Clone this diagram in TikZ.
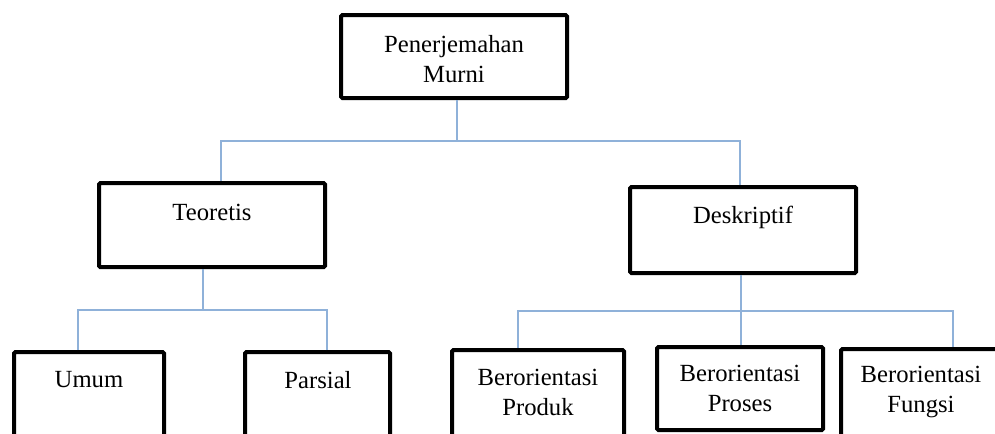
\documentclass[tikz,border=0pt]{standalone}
\usepackage{fontspec}
\setmainfont{Liberation Serif}
\usetikzlibrary{calc}

\tikzset{every picture/.style={line width=0.75pt}}
\tikzset{
  box/.style={draw, line width=3pt, rounded corners=1pt, inner sep=0pt},
  lbl/.style={align=center, inner sep=0pt, font=\fontsize{18.5}{22.5}\selectfont},
  conn/.style={draw={rgb, 255:red, 143; green, 177; blue, 217}, line width=1.6pt}
}

\begin{document}
\begin{tikzpicture}[x=0.75pt,y=0.75pt,yscale=-1,xscale=1]
		\useasboundingbox (0,0) rectangle (995,433);
		\clip (0,0) rectangle (995,433);

		%Shape: Rectangle
		\node[box, minimum width=169.5pt, minimum height=62.25pt] (murni) at (454,56.5) {};
		\node[box, minimum width=169.5pt, minimum height=63pt] (teoretis) at (212,225) {};
		\node[box, minimum width=169.5pt, minimum height=64.5pt] (deskriptif) at (743,230) {};
		\node[box, minimum width=112.5pt, minimum height=64.5pt] (umum) at (89,395) {};
		\node[box, minimum width=108.75pt, minimum height=64.5pt] (parsial) at (317.5,395) {};
		\node[box, minimum width=129pt, minimum height=66pt] (produk) at (538,394) {};
		\node[box, minimum width=124.5pt, minimum height=62.25pt] (proses) at (740,388.5) {};
		\node[box, minimum width=120pt, minimum height=66.75pt] (fungsi) at (921,393.5) {};

		% Text Node
		\node[lbl] (murniT) at (454,59) {Penerjemahan\\Murni};
		% Text Node
		\node[lbl] (teoretisT) at (212,212) {Teoretis};
		% Text Node
		\node[lbl] (deskriptifT) at (743,217) {Deskriptif};
		% Text Node
		\node[lbl] (umumT) at (89,380) {Umum};
		% Text Node
		\node[lbl] (parsialT) at (318,380) {Parsial};
		% Text Node
		\node[lbl] (produkT) at (538,392) {Berorientasi\\Produk};
		% Text Node
		\node[lbl] (prosesT) at (740,388) {Berorientasi\\Proses};
		% Text Node
		\node[lbl] (fungsiT) at (921,392) {Berorientasi\\Fungsi};

		%Straight Lines
		\draw[conn] ([xshift=2.25pt]murni.south) -- ++(0,41) coordinate (busA);
		\draw[conn] ([xshift=6.75pt]teoretis.north) |- (busA);
		\draw[conn] ([xshift=-2.25pt]deskriptif.north) |- (busA);
		%Straight Lines
		\draw[conn] ([xshift=-6.75pt]teoretis.south) -- ++(0,41) coordinate (busB);
		\draw[conn] ([xshift=-8.25pt]umum.north) |- (busB);
		\draw[conn] ([xshift=7.125pt]parsial.north) |- (busB);
		%Straight Lines
		\draw[conn] ([xshift=-1.5pt]deskriptif.south) -- ++(0,36) coordinate (busC);
		\draw[conn] ([xshift=-15pt]produk.north) |- (busC);
		\draw[conn] ([xshift=0.75pt]proses.north) |- (busC);
		\draw[conn] ([xshift=24pt]fungsi.north) |- (busC);

\end{tikzpicture}
\end{document}
